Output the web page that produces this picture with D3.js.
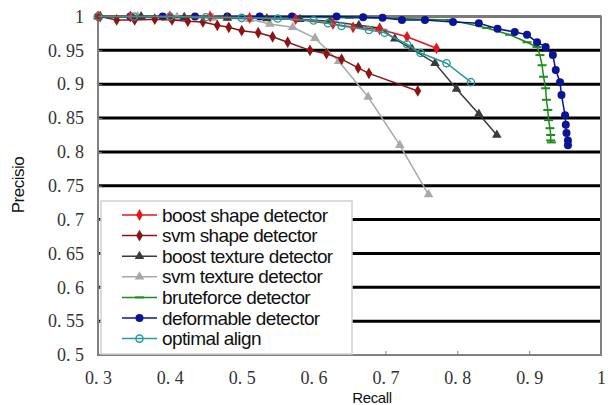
<!DOCTYPE html>
<html><head><meta charset="utf-8">
<script src="https://cdn.jsdelivr.net/npm/d3@7"></script>
<style>body{margin:0;background:#fff}svg{display:block}</style>
</head><body><svg id="c" width="608" height="405"></svg>
<script>
const xTicks = [0.3,0.4,0.5,0.6,0.7,0.8,0.9,1];
const xTickLabels = ["0. 3","0. 4","0. 5","0. 6","0. 7","0. 8","0. 9","1"];
const yTicks = [0.5,0.55,0.6,0.65,0.7,0.75,0.8,0.85,0.9,0.95,1];
const yTickLabels = ["0. 5","0. 55","0. 6","0. 65","0. 7","0. 75","0. 8","0. 85","0. 9","0. 95","1"];
const seriesNames = ["boost shape detector","svm shape detector","boost texture detector","svm texture detector","bruteforce detector","deformable detector","optimal align"];

const boostShapeR = [0.30,0.345,0.40,0.456,0.511,0.575,0.627,0.655,0.692,0.730,0.771];
const boostShapeP = [1.0,1.0,1.0,1.0,0.998,0.996,0.989,0.984,0.981,0.970,0.953];

const svmShapeR = [0.303,0.326,0.351,0.379,0.403,0.425,0.446,0.466,0.482,0.500,0.523,0.543,0.564,0.595,0.618,0.639,0.662,0.677,0.745];
const svmShapeP = [1.0,0.995,0.995,0.996,0.995,0.993,0.992,0.987,0.984,0.979,0.976,0.970,0.962,0.950,0.945,0.937,0.924,0.916,0.890];

const boostTexR = [0.30,0.36,0.42,0.48,0.535,0.581,0.623,0.663,0.692,0.713,0.737,0.769,0.799,0.830,0.855];
const boostTexP = [1.0,1.0,0.999,0.998,0.997,0.996,0.993,0.987,0.983,0.967,0.952,0.931,0.893,0.856,0.825];

const svmTexR = [0.30,0.355,0.41,0.46,0.511,0.539,0.571,0.602,0.635,0.676,0.720,0.760];
const svmTexP = [1.0,1.0,0.999,0.998,0.996,0.989,0.984,0.968,0.934,0.881,0.810,0.737];

const bruteR = [0.30,0.37,0.44,0.51,0.58,0.65,0.72,0.790,0.841,0.873,0.897,0.911,0.915,0.918,0.920,0.923,0.924,0.926,0.927,0.929,0.930,0.930,0.931];
const bruteP = [1.0,1.0,1.0,0.999,0.999,0.998,0.997,0.995,0.983,0.973,0.962,0.955,0.943,0.928,0.911,0.894,0.877,0.862,0.847,0.835,0.825,0.817,0.814];

const deformR = [0.30,0.345,0.39,0.435,0.48,0.525,0.57,0.632,0.669,0.696,0.723,0.755,0.794,0.830,0.856,0.880,0.897,0.911,0.923,0.933,0.937,0.943,0.945,0.950,0.951,0.952,0.954,0.954];
const deformP = [1.0,1.0,1.0,1.0,1.0,1.0,1.0,1.0,0.999,0.998,0.995,0.995,0.992,0.990,0.982,0.977,0.973,0.962,0.955,0.943,0.921,0.903,0.884,0.854,0.840,0.828,0.817,0.810];

const optimalR = [0.30,0.35,0.40,0.45,0.50,0.55,0.60,0.62,0.639,0.677,0.699,0.730,0.749,0.785,0.819];
const optimalP = [1.0,1.0,1.0,0.999,0.998,0.997,0.994,0.990,0.986,0.980,0.976,0.959,0.946,0.931,0.903];

const colors = ["#e8141c","#8e1414","#3a3a3a","#a8a8a8","#1e8c1e","#0c1496","#2a9a9a"];
const markers = ["diamond","diamond","triangle","triangle","dash","circle","ocircle"];
const seriesR = [boostShapeR,svmShapeR,boostTexR,svmTexR,bruteR,deformR,optimalR];
const seriesP = [boostShapeP,svmShapeP,boostTexP,svmTexP,bruteP,deformP,optimalP];

const svg = d3.select("#c");
const L=98,R=601,T=16.5,B=355;
const x = d3.scaleLinear().domain([0.3,1]).range([L,R]);
const y = d3.scaleLinear().domain([0.5,1]).range([B,T]);

svg.append("g").selectAll("line").data(yTicks.filter(v=>v>0.5&&v<1)).join("line")
  .attr("x1",L).attr("x2",R).attr("y1",d=>y(d)).attr("y2",d=>y(d))
  .attr("stroke","#000").attr("stroke-width",3);

svg.append("rect").attr("x",L).attr("y",T).attr("width",R-L).attr("height",B-T)
  .attr("fill","none").attr("stroke","#808080").attr("stroke-width",2);
svg.append("line").attr("x1",L).attr("x2",R).attr("y1",T).attr("y2",T).attr("stroke","#7a7a7a").attr("stroke-width",3);

const yAxis = d3.axisLeft(y).tickValues(yTicks).tickSize(-4).tickPadding(14).tickFormat((d,i)=>yTickLabels[i]);
const gy = svg.append("g").attr("transform",`translate(${L},0)`).call(yAxis);
gy.select(".domain").remove();
gy.selectAll(".tick line").attr("stroke","#808080");
gy.selectAll("text").attr("font-family","'Liberation Serif', serif").attr("font-size",18).attr("fill","#333");

const xAxis = d3.axisBottom(x).tickValues(xTicks).tickSize(-4).tickPadding(16).tickFormat((d,i)=>xTickLabels[i]);
const gx = svg.append("g").attr("transform",`translate(0,${B})`).call(xAxis);
gx.select(".domain").remove();
gx.selectAll(".tick line").attr("stroke","#808080");
gx.selectAll("text").attr("font-family","'Liberation Serif', serif").attr("font-size",18).attr("fill","#333");

function drawMarker(g, type, color, cx, cy){
  if(type==="diamond"){
    g.append("path").attr("d",d3.symbol(d3.symbolDiamond,40)()).attr("transform",`translate(${cx},${cy})`).attr("fill",color);
  } else if(type==="triangle"){
    g.append("path").attr("d",d3.symbol(d3.symbolTriangle,40)()).attr("transform",`translate(${cx},${cy})`).attr("fill",color);
  } else if(type==="circle"){
    g.append("circle").attr("cx",cx).attr("cy",cy).attr("r",4).attr("fill",color);
  } else if(type==="ocircle"){
    g.append("circle").attr("cx",cx).attr("cy",cy).attr("r",3.6).attr("fill","none").attr("stroke",color).attr("stroke-width",1.4);
  } else if(type==="dash"){
    g.append("line").attr("x1",cx-4.5).attr("x2",cx+4.5).attr("y1",cy).attr("y2",cy).attr("stroke",color).attr("stroke-width",2);
  }
}

const line = d3.line().x(d=>x(d[0])).y(d=>y(d[1]));
const order = [4,5,3,2,0,1,6];
order.forEach(i=>{
  const pts = seriesR[i].map((r,j)=>[r,seriesP[i][j]]);
  const g = svg.append("g");
  g.append("path").datum(pts).attr("d",line).attr("fill","none").attr("stroke",colors[i]).attr("stroke-width",1.5);
  pts.forEach(p=>drawMarker(g,markers[i],colors[i],x(p[0]),y(p[1])));
});

const lg = svg.append("g");
lg.append("rect").attr("x",101).attr("y",201).attr("width",251).attr("height",153).attr("fill","#fff").attr("stroke","#d0d0d0").attr("stroke-width",1.5);
seriesNames.forEach((n,i)=>{
  const cy = 215 + i*20.6;
  lg.append("line").attr("x1",122).attr("x2",157).attr("y1",cy).attr("y2",cy).attr("stroke",colors[i]).attr("stroke-width",1.5);
  drawMarker(lg,markers[i],colors[i],139.5,cy);
  lg.append("text").attr("x",162).attr("y",cy+6.5).text(n)
    .attr("font-family","'Liberation Sans', Arial, sans-serif").attr("font-size",19).attr("letter-spacing",-0.6).attr("fill","#111");
});

svg.append("text").attr("x",372).attr("y",403).attr("text-anchor","middle").text("Recall")
  .attr("font-family","'Liberation Sans', Arial, sans-serif").attr("font-size",15).attr("letter-spacing",-0.4).attr("fill","#111");
svg.append("text").attr("transform","translate(24,185) rotate(-90)").attr("text-anchor","middle").text("Precisio")
  .attr("font-family","'Liberation Sans', Arial, sans-serif").attr("font-size",17).attr("letter-spacing",-0.5).attr("fill","#111");
</script></body></html>
